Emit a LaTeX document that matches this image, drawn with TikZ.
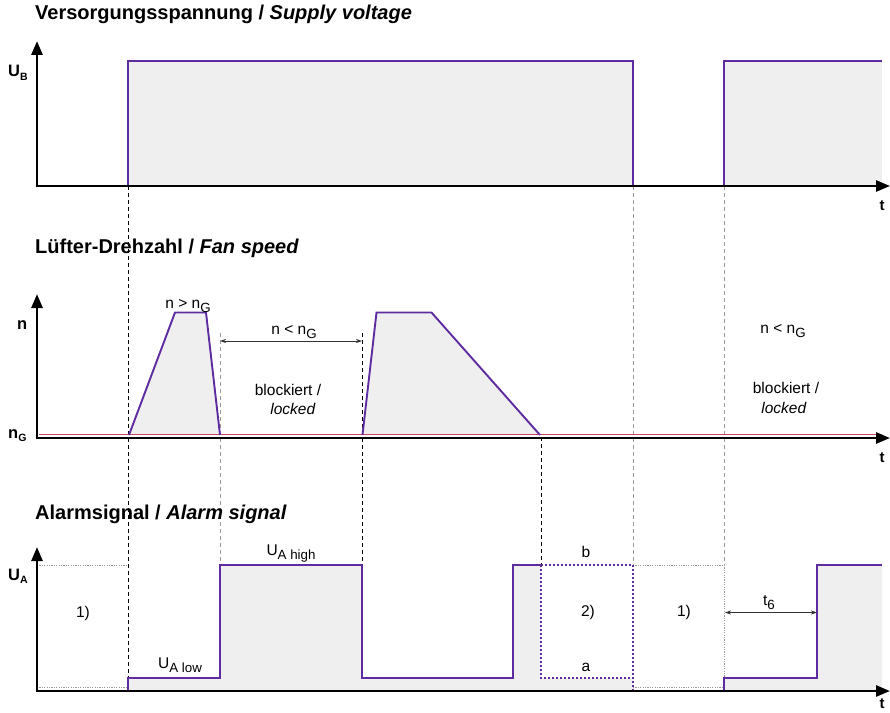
\documentclass[tikz,border=0pt]{standalone}
\usepackage{fontspec}
\setmainfont{Liberation Sans}
\usetikzlibrary{arrows.meta}
\definecolor{sig}{RGB}{94,44,160}
\definecolor{ngline}{RGB}{205,70,95}
\definecolor{fillg}{RGB}{239,239,239}
\newcommand{\lsub}[1]{\raisebox{-0.3em}{\scalebox{0.86}{#1}}}
\newcommand{\asub}[1]{\raisebox{-0.22em}{\scalebox{0.64}{#1}}}
\tikzset{
  axis/.style={line width=2.6bp,-{Triangle[length=14bp,width=11bp]}},
  sigline/.style={sig,line width=1.9bp,line join=miter},
  sigfill/.style={fill=fillg,draw=none},
  vdash/.style={dashed,line width=0.8bp,dash pattern=on 4bp off 3bp},
  vgdash/.style={vdash,gray!80},
  gdot/.style={gray!80,line width=0.8bp,dash pattern=on 1.2bp off 1.2bp},
  pdot/.style={sig,line width=1.8bp,dash pattern=on 2bp off 2bp},
  dimarrow/.style={line width=0.8bp,black!80,{Stealth[length=6bp,width=4bp]}-{Stealth[length=6bp,width=4bp]}},
  ttl/.style={anchor=base west,inner sep=0,font=\fontsize{20bp}{23bp}\selectfont\bfseries},
  lbl/.style={anchor=base,inner sep=0,font=\fontsize{15.5bp}{18bp}\selectfont},
  albl/.style={anchor=base west,inner sep=0,font=\fontsize{16.5bp}{19bp}\selectfont\bfseries},
  tlbl/.style={anchor=center,inner sep=0,font=\fontsize{15bp}{18bp}\selectfont\bfseries}
}
\begin{document}
\begin{tikzpicture}[x=1bp,y=-1bp]
\useasboundingbox (0,0) rectangle (890,713);

% ---------- fills ----------
\fill[sigfill] (128,186) -- (128,61) -- (633,61) -- (633,186) -- cycle;
\fill[sigfill] (724,186) -- (724,61) -- (882,61) -- (882,186) -- cycle;
\fill[sigfill] (129,435) -- (175,312.5) -- (206,312.5) -- (220,435) -- cycle;
\fill[sigfill] (362.5,435) -- (376.5,312.5) -- (431.5,312.5) -- (540,435) -- cycle;
\fill[sigfill] (128,691) -- (128,678) -- (220,678) -- (220,565) -- (362,565) -- (362,678)
  -- (513,678) -- (513,565) -- (541,565) -- (541,678) -- (633,678) -- (633,691) -- cycle;
\fill[sigfill] (724,691) -- (724,678) -- (817,678) -- (817,565) -- (882,565) -- (882,691) -- cycle;

% ---------- vertical guide lines ----------
\coordinate (g1a) at (128,186); \coordinate (g1b) at (128,691);
\coordinate (g2a) at (220,333); \coordinate (g2b) at (220,565);
\coordinate (g3a) at (362,333); \coordinate (g3b) at (362,565);
\coordinate (g4a) at (541,437); \coordinate (g4b) at (541,565);
\coordinate (g5a) at (633,186); \coordinate (g5b) at (633,565);
\coordinate (g6a) at (724,186); \coordinate (g6b) at (724,565);
\draw[vdash] (g1a) -- (g1b);
\draw[vgdash] (g2a) -- (g2b);
\draw[vdash] (g3a) -- (g3b);
\draw[vdash] (g4a) -- (g4b);
\draw[vgdash] (g5a) -- (g5b);
\draw[vgdash] (g6a) -- (g6b);

% ---------- dotted reference lines (alarm) ----------
\draw[gdot] (37,565) -- (128,565);
\draw[gdot] (37,687) -- (128,687);
\draw[gdot] (633,565) -- (724,565);
\draw[gdot] (633,687) -- (724,687);
\draw[gdot] (724,565) -- (724,680);

% ---------- red n_G line ----------
\draw[ngline,line width=1bp] (39,434) -- (882,434);

% ---------- signals ----------
\draw[sigline] (128,186) -- (128,61) -- (633,61) -- (633,186);
\draw[sigline] (724,186) -- (724,61) -- (882,61);
\draw[sigline] (129,435) -- (175,312.5) -- (206,312.5) -- (220,435);
\draw[sigline] (362.5,435) -- (376.5,312.5) -- (431.5,312.5) -- (540,435);
\draw[sigline] (128,691) -- (128,678) -- (220,678) -- (220,565) -- (362,565) -- (362,678)
  -- (513,678) -- (513,565) -- (541,565);
\draw[pdot] (541,565) -- (633,565) -- (633,691);
\draw[pdot] (541,565) -- (541,678) -- (633,678);
\draw[sigline] (724,691) -- (724,678) -- (817,678) -- (817,565) -- (882,565);

% ---------- dimension arrows ----------
\coordinate (d1l) at (220,341); \coordinate (d1r) at (362,341);
\draw[dimarrow] (d1l) -- (d1r);
\coordinate (d2l) at (725,612.5); \coordinate (d2r) at (817,612.5);
\draw[dimarrow] (d2l) -- (d2r);

% ---------- axes ----------
\coordinate (o1) at (37,186); \coordinate (y1) at (37,41); \coordinate (x1) at (890,186);
\coordinate (o2) at (37,438); \coordinate (y2) at (37,294); \coordinate (x2) at (890,438);
\coordinate (o3) at (37,691); \coordinate (y3) at (37,547); \coordinate (x3) at (890,691);
\draw[axis] ([yshift=-1.3bp]o1) -- (y1);
\draw[axis] ([xshift=-1.3bp]o1) -- (x1);
\draw[axis] ([yshift=-1.3bp]o2) -- (y2);
\draw[axis] ([xshift=-1.3bp]o2) -- (x2);
\draw[axis] ([yshift=-1.3bp]o3) -- (y3);
\draw[axis] ([xshift=-1.3bp]o3) -- (x3);

% ---------- titles ----------
\node[ttl] (title1) at (35,20) {Versorgungsspannung / \textit{Supply voltage}};
\node[ttl] (title2) at (35,253) {Lüfter-Drehzahl / \textit{Fan speed}};
\node[ttl] (title3) at (35,519) {Alarmsignal / \textit{Alarm signal}};

% ---------- axis labels ----------
\node[albl] (ub) at (8,77) {U\asub{B}};
\node[albl] (nlab) at (17,329) {n};
\node[albl] (nglab) at (8,438) {n\asub{G}};
\node[albl] (ua) at (8,580) {U\asub{A}};
\node[tlbl] (t1) at (882,206) {t};
\node[tlbl] (t2) at (882,458) {t};
\node[tlbl] (t3) at (882,704) {t};

% ---------- fan speed labels ----------
\node[lbl] (ngt) at (188,308) {n > n\lsub{G}};
\node[lbl] (nlt1) at (294,334) {n < n\lsub{G}};
\node[lbl] (bl1) at (288,395) {blockiert /};
\node[lbl] (lk1) at (293,414) {\textit{locked}};
\node[lbl] (nlt2) at (783,333) {n < n\lsub{G}};
\node[lbl] (bl2) at (786,393) {blockiert /};
\node[lbl] (lk2) at (784,413) {\textit{locked}};

% ---------- alarm labels ----------
\node[lbl] (uah) at (291,555) {U\lsub{A high}};
\node[lbl] (ual) at (180,668) {U\lsub{A low}};
\node[lbl,anchor=center] (one1) at (83,613) {1)};
\node[lbl] (lb) at (586,557) {b};
\node[lbl,anchor=center] (two) at (588,612) {2)};
\node[lbl] (la) at (586,671) {a};
\node[lbl,anchor=center] (one2) at (684,612) {1)};
\node[lbl] (t6) at (769,605) {t\lsub{6}};
\end{tikzpicture}
\end{document}
